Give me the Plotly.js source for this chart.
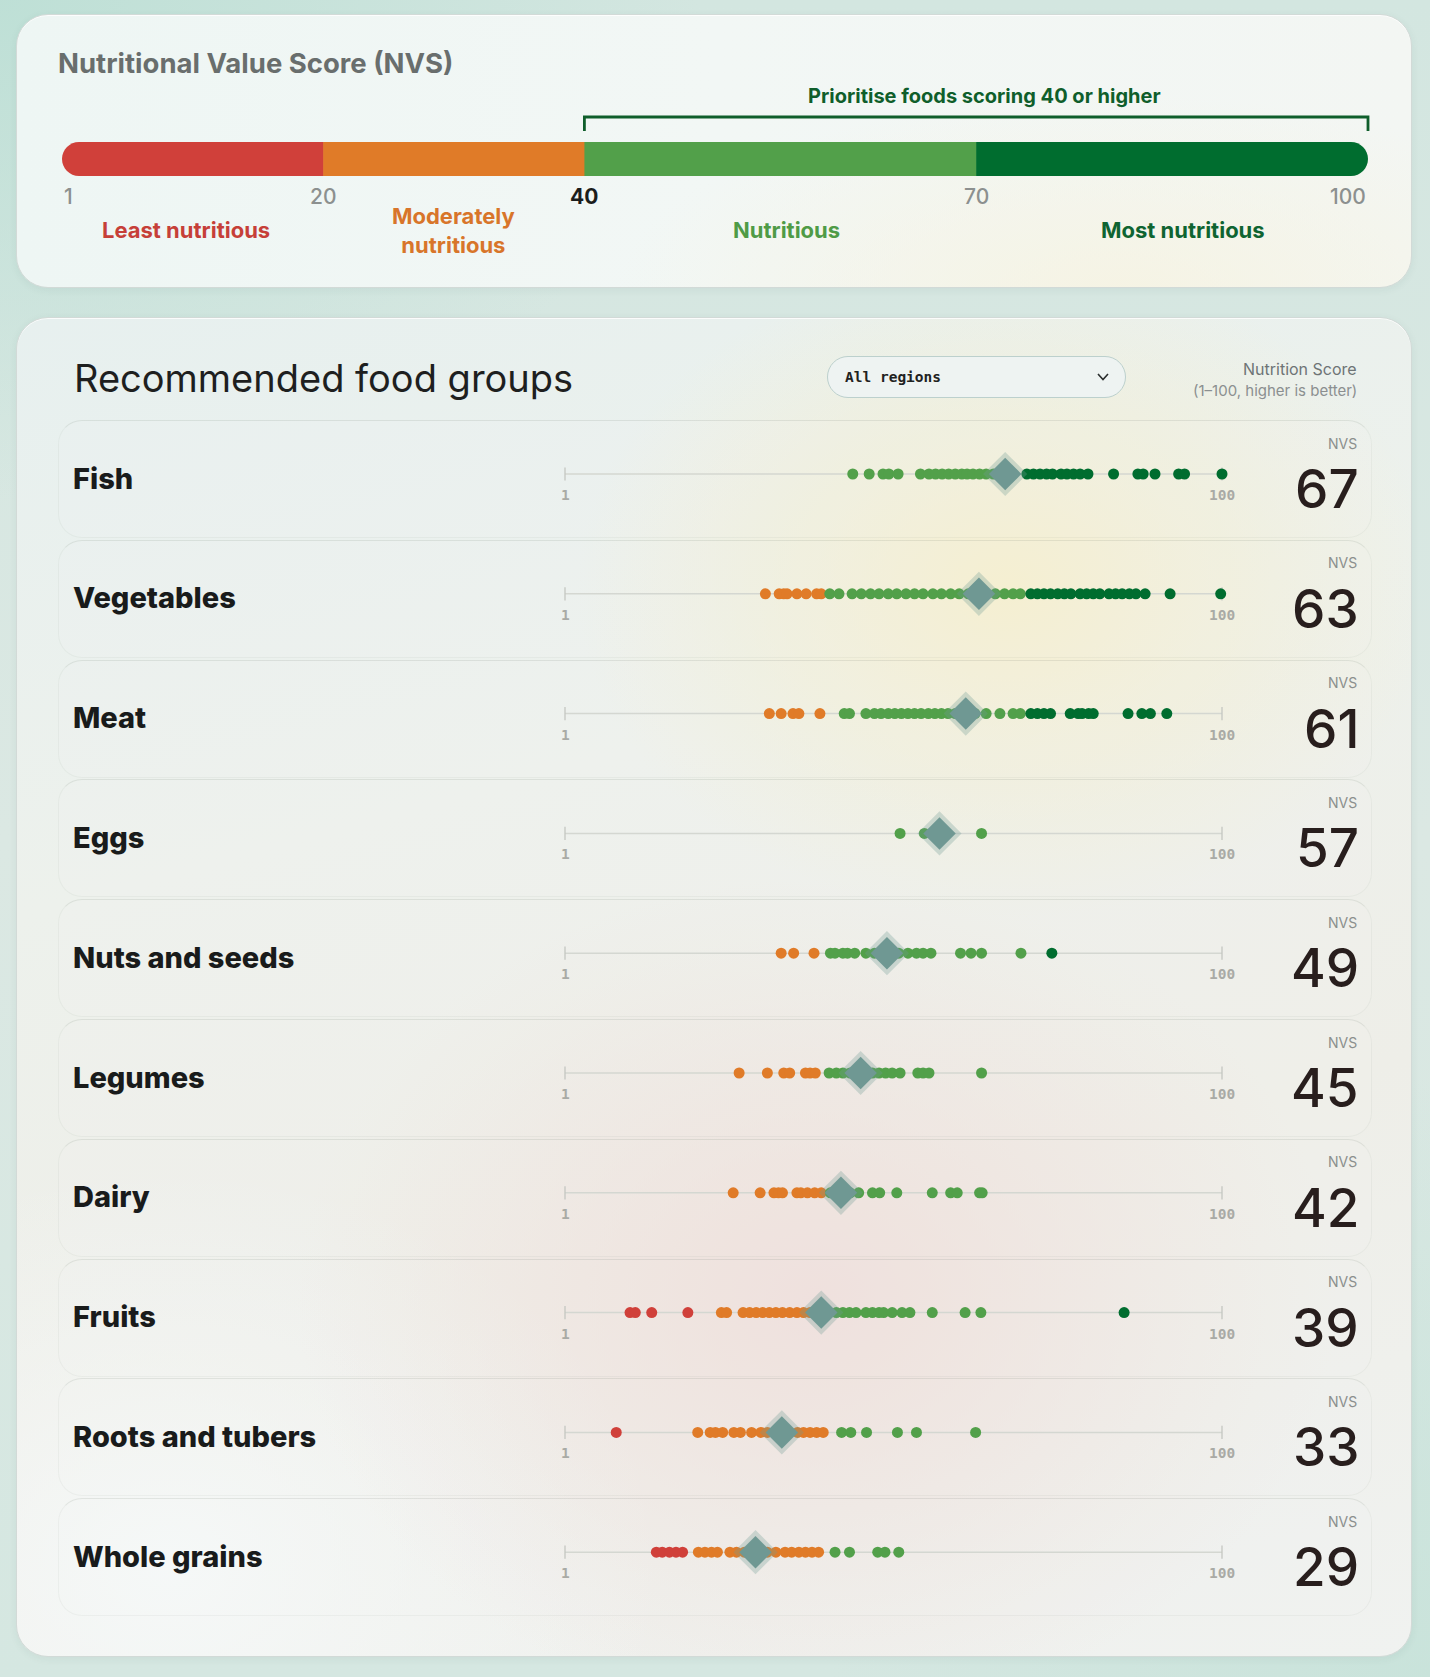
<!DOCTYPE html>
<html>
<head>
<meta charset="utf-8">
<script src="https://cdn.plot.ly/plotly-3.0.1.min.js"></script>
<style>
  html, body { margin:0; padding:0; width:1430px; height:1677px; overflow:hidden; }
  body {
    background:
      radial-gradient(ellipse 700px 500px at 0px 0px, rgba(188,223,213,0.9), rgba(188,223,213,0) 100%),
      radial-gradient(ellipse 600px 600px at 1430px 1677px, rgba(198,226,217,0.8), rgba(198,226,217,0) 100%),
      linear-gradient(180deg, #d3e6e0 0%, #dbe8e3 50%, #d5e7e1 100%);
    font-family: Inter, sans-serif;
  }
  .card { position:absolute; left:16px; width:1396px; border-radius:32px; box-sizing:border-box;
          border:1px solid #d2dad7; box-shadow: 0 2px 8px rgba(40,70,60,0.06), inset 0 1px 0 rgba(255,255,255,0.8); }
  #card1 { top:14px; height:274px;
    background:
      radial-gradient(ellipse 500px 200px at 1100px 280px, rgba(246,243,226,0.9), rgba(246,243,226,0) 100%),
      linear-gradient(90deg, #eef6f4 0%, #f2f7f5 50%, #f3f6f3 100%); }
  #card2 { top:317px; height:1340px;
    background:
      radial-gradient(ellipse 430px 330px at 990px 270px, rgba(246,238,204,0.9), rgba(246,238,204,0) 100%),
      radial-gradient(ellipse 520px 420px at 800px 980px, rgba(238,221,217,0.85), rgba(238,221,217,0) 100%),
      radial-gradient(ellipse 500px 400px at 150px 1250px, rgba(246,249,249,0.9), rgba(246,249,249,0) 100%),
      linear-gradient(165deg, #e7f0ef 0%, #edf1ec 35%, #eeeee8 65%, #f0f2f0 100%); }
  .row { position:absolute; left:58px; width:1314px; height:118px; box-sizing:border-box;
         border:1px solid rgba(70,80,70,0.05); border-top:1.5px solid rgba(70,80,70,0.11);
         border-radius:24px; background:rgba(255,255,255,0.06); }
  #dropdown { position:absolute; left:827px; top:356px; width:299px; height:42px; box-sizing:border-box;
              border-radius:21px; border:1.5px solid #bcd0cd; background:#eef3f2; }
  #plot { position:absolute; left:0; top:0; width:1430px; height:1677px; z-index:5; }
</style>
</head>
<body>
<div class="card" id="card1"></div>
<div class="card" id="card2"></div>
<div id="rows"></div>
<div id="dropdown"></div>
<div id="plot"></div>
<script>
// ---------------- DATA ----------------
const groups = ['Fish','Vegetables','Meat','Eggs','Nuts and seeds','Legumes','Dairy','Fruits','Roots and tubers','Whole grains'];
const nvsScores = [67,63,61,57,49,45,42,39,33,29];

const fishScores = [43.8,46.3,48.4,49.3,50.7,54.1,55.4,56.4,57.4,58.4,59.4,60.4,61.2,62.1,63.1,64.1,65.2,66.7,68.2,70.3,71.3,72.3,73.3,74.2,75.5,76.4,77.4,78.4,79.6,83.5,87.2,88,89.8,93.4,94.3,100];
const vegetableScores = [30.5,32.6,33.3,33.8,35.3,36.7,38.3,39,40.3,41.7,43.7,45.1,46.5,47.8,49.2,50.5,51.9,53.2,54.5,56,57.3,58.7,60,61.4,62.6,64.1,65.5,66.9,68.2,69.3,70.9,71.9,72.9,73.9,75,76,77,78.4,79.4,80.4,81.4,82.8,83.8,84.8,85.9,86.9,88.3,92.1,99.8];
const meatScores = [31.1,32.9,34.7,35.6,38.8,42.5,43.3,45.8,47.1,48.1,49.2,50.2,51.2,52.2,53.2,54.2,55.3,56.3,57.3,58.3,59.4,60.6,62.4,64.1,66.2,68.2,69.3,70.9,71.9,72.9,73.9,76.9,78.1,78.7,79.7,80.4,85.7,87.8,89.1,91.6];
const eggScores = [51,54.7,63.4];
const nutScores = [32.9,34.8,37.9,40.4,41.1,42.3,43,44.1,45.8,47.1,48.1,49.5,50.8,52.2,53.5,54.5,55.7,60.2,61.8,63.4,69.4,74.1];
const legumeScores = [26.5,30.8,33.3,34.2,36.6,37.3,38.1,40.2,41.3,42.3,43.4,44.9,46.8,47.8,48.8,49.8,51,53.7,54.5,55.4,63.4];
const dairyScores = [25.6,29.7,31.8,32.5,33.1,35.3,35.9,36.9,38,39,40.4,41.9,43.4,44.7,46.8,47.9,50.5,55.9,58.7,59.7,63.1,63.5];
const fruitScores = [9.9,10.7,13.2,18.7,23.8,24.6,27.1,28.1,29.1,30.1,31.1,32.1,33.1,34.2,35.3,36.3,37.3,38.4,40.2,41.3,42.3,43.3,44.3,45.8,46.8,47.8,48.5,49.8,51.3,52.5,55.9,60.9,63.3,85.1];
const rootScores = [7.8,20.2,22.1,22.9,24,25.7,26.7,28.4,29.8,30.8,32.3,33.8,35.4,36.3,37.3,38.3,39.3,42.1,43.5,45.9,50.6,53.5,62.5];
const grainScores = [13.9,14.8,15.9,16.9,17.9,20.3,21.3,22.3,23.2,25.1,26.1,27.3,28.3,29.8,30.8,32.1,33.5,34.5,35.6,36.6,37.6,38.6,41.1,43.3,47.6,48.7,50.8];

const bandEdges = [0,20,40,70,100];
const bandColors = ['#d0403a','#e07b28','#52a04a','#006d2f'];
const bandLabels = ['Least nutritious','Moderately<br>nutritious','Nutritious','Most nutritious'];
const bandLabelColors = ['#c63f38','#d8752a','#4f9b46','#0f6431'];
const scaleTickLabels = ['1','20','40','70','100'];
const priorityThreshold = 40;
const priorityText = 'Prioritise foods scoring 40 or higher';
const axisTickValues = [0,100];
const axisTickLabels = ['1','100'];

const scoresByGroup = [fishScores, vegetableScores, meatScores, eggScores, nutScores, legumeScores, dairyScores, fruitScores, rootScores, grainScores];

// ---------------- LAYOUT HELPERS ----------------
const W = 1430, H = 1677;
const rowTop = 474, rowStep = 119.8;
const px = v => v / W;
const py = v => 1 - v / H;
function bandColor(v){
  for (let k = bandEdges.length - 2; k >= 0; k--) if (v >= bandEdges[k]) return bandColors[k];
  return bandColors[0];
}

// row panels (decoration)
const rowsDiv = document.getElementById('rows');
groups.forEach((g,i)=>{
  const d = document.createElement('div');
  d.className = 'row';
  d.style.top = (rowTop - 54 + i*rowStep) + 'px';
  rowsDiv.appendChild(d);
});

// ---------------- TRACES ----------------
const traces = [];
scoresByGroup.forEach((arr,i)=>{
  traces.push({
    type:'scatter', mode:'markers', xaxis:'x', yaxis:'y', cliponaxis:false,
    x: arr, y: arr.map(()=>i), hoverinfo:'skip', showlegend:false,
    marker:{size:11, color: arr.map(bandColor), line:{width:0}}
  });
});
const rowIdx = groups.map((g,i)=>i);
traces.push({type:'scatter', mode:'markers', x:nvsScores, y:rowIdx, xaxis:'x', yaxis:'y', cliponaxis:false,
  hoverinfo:'skip', showlegend:false, marker:{symbol:'diamond', size:34, color:'rgba(112,155,148,0.30)', line:{width:0}}});
traces.push({type:'scatter', mode:'markers', x:nvsScores, y:rowIdx, xaxis:'x', yaxis:'y', cliponaxis:false,
  hoverinfo:'skip', showlegend:false, marker:{symbol:'diamond', size:25, color:'#6f9893', line:{width:0}}});

// ---------------- SHAPES ----------------
const shapes = [];
const gridCol = '#d4d7d1';
groups.forEach((g,i)=>{
  shapes.push({type:'line', xref:'x', yref:'y', x0:axisTickValues[0], x1:axisTickValues[1], y0:i, y1:i, line:{color:gridCol, width:1.5}, layer:'below'});
  axisTickValues.forEach(xv=>{
    shapes.push({type:'line', xref:'x', yref:'y', x0:xv, x1:xv, y0:i-0.055, y1:i+0.055, line:{color:'#c4c6c1', width:1.3}, layer:'below'});
  });
});

// top scale bar on x2 / y2 (y2 in pixel units)
const barTop = 142, barBot = 176, barMid = (barTop+barBot)/2, half = (barBot-barTop)/2;
const unitPx = (1368-62)/100;
const rx = half / unitPx, k = 0.5523;
for (let b = 0; b < bandColors.length; b++){
  const a = bandEdges[b], z = bandEdges[b+1];
  let path;
  if (b === 0){
    path = `M ${a+rx},${barTop} L ${z+0.05},${barTop} L ${z+0.05},${barBot} L ${a+rx},${barBot} `+
           `C ${a+rx-k*rx},${barBot} ${a},${barMid+k*half} ${a},${barMid} `+
           `C ${a},${barMid-k*half} ${a+rx-k*rx},${barTop} ${a+rx},${barTop} Z`;
  } else if (b === bandColors.length-1){
    path = `M ${a},${barTop} L ${z-rx},${barTop} `+
           `C ${z-rx+k*rx},${barTop} ${z},${barMid-k*half} ${z},${barMid} `+
           `C ${z},${barMid+k*half} ${z-rx+k*rx},${barBot} ${z-rx},${barBot} L ${a},${barBot} Z`;
  } else {
    path = `M ${a},${barTop} L ${z+0.05},${barTop} L ${z+0.05},${barBot} L ${a},${barBot} Z`;
  }
  shapes.push({type:'path', xref:'x2', yref:'y2', path:path, fillcolor:bandColors[b], line:{width:0}});
}
// bracket
shapes.push({type:'path', xref:'x2', yref:'y2',
  path:`M ${priorityThreshold},131 L ${priorityThreshold},117 L ${bandEdges[bandEdges.length-1]},117 L ${bandEdges[bandEdges.length-1]},131`,
  line:{color:'#0f5e2b', width:2.8}});
// dropdown chevron (paper)
shapes.push({type:'path', xref:'paper', yref:'paper',
  path:`M ${px(1098)},${py(374)} L ${px(1103)},${py(379.5)} L ${px(1108)},${py(374)}`,
  line:{color:'#2a2e2e', width:1.6}});

// ---------------- ANNOTATIONS ----------------
const ann = [];
const A = o => ann.push(Object.assign({showarrow:false}, o));
const bandLabelShift = [-7, 0, 6, 11];

A({xref:'paper', yref:'paper', x:px(56), y:py(63), xanchor:'left', yanchor:'middle',
   text:'Nutritional Value Score (NVS)', font:{family:'Inter', size:27.5, weight:700, color:'#696e6d'}});
A({xref:'x2', yref:'y2', x:(priorityThreshold+bandEdges[bandEdges.length-1])/2, xshift:8, y:96, xanchor:'center', yanchor:'middle',
   text:priorityText, font:{family:'Inter', size:20, weight:700, color:'#0f5e2b'}});
bandEdges.forEach((e,j)=>{
  const isThr = e === priorityThreshold;
  A({xref:'x2', yref:'y2', x:e, y:196, xanchor: j===0?'left':(j===bandEdges.length-1?'right':'center'), yanchor:'middle',
     text:scaleTickLabels[j], font:{family:'Inter', size:21, weight:isThr?700:500, color:isThr?'#1b1d1c':'#8c908f'}});
});
bandLabels.forEach((t,j)=>{
  A({xref:'x2', yref:'y2', x:(bandEdges[j]+bandEdges[j+1])/2, xshift: bandLabelShift[j], y:230, xanchor:'center', yanchor:'middle',
     text:t, font:{family:'Inter', size:22, weight:700, color:bandLabelColors[j]}});
});

A({xref:'paper', yref:'paper', x:px(72), y:py(378), xanchor:'left', yanchor:'middle',
   text:'Recommended food groups', font:{family:'Inter', size:38, weight:400, color:'#1e1f1f'}});
A({xref:'paper', yref:'paper', x:px(843), y:py(377), xanchor:'left', yanchor:'middle',
   text:'All regions', font:{family:'DejaVu Sans Mono', size:14.5, weight:700, color:'#1f2221'}});
A({xref:'paper', yref:'paper', x:px(1359), y:py(369), xanchor:'right', yanchor:'middle',
   text:'Nutrition Score', font:{family:'Inter', size:16, color:'#6e7476'}});
A({xref:'paper', yref:'paper', x:px(1359), y:py(391), xanchor:'right', yanchor:'middle',
   text:'(1–100, higher is better)', font:{family:'Inter', size:15, color:'#8b8f90'}});

groups.forEach((g,i)=>{
  A({xref:'paper', yref:'y', x:px(71), y:i, yshift:-4, xanchor:'left', yanchor:'middle',
     text:g, font:{family:'Inter', size:29, weight:800, color:'#191b1b'}});
  axisTickValues.forEach((xv,j)=>{
    A({xref:'x', yref:'y', x:xv, y:i, yshift:-21, xanchor:'center', yanchor:'middle',
       text:axisTickLabels[j], font:{family:'DejaVu Sans Mono', size:14.5, weight:700, color:'#a9aaa5'}});
  });
  A({xref:'paper', yref:'y', x:px(1359), y:i, yshift:31, xanchor:'right', yanchor:'middle',
     text:'NVS', font:{family:'Inter', size:14, color:'#8b8f8d'}});
  A({xref:'paper', yref:'y', x:px(1361), y:i, yshift:-15, xanchor:'right', yanchor:'middle',
     text:String(nvsScores[i]), font:{family:'Inter', size:53, weight:500, color:'#281e1d'}});
});

// ---------------- AXES ----------------
const u1 = (1222-565)/(axisTickValues[1]-axisTickValues[0]);
const pad = 5;
const xr = [axisTickValues[0]-pad, axisTickValues[1]+pad];
const x0px = 565 - pad*u1, x1px = 1222 + pad*u1;
const yTopVal = 0 - rowTop/rowStep, yBotVal = 9 + (H - (rowTop + 9*rowStep))/rowStep;
const x2r = [-2, 102];
const x2a = 62 - 2*unitPx, x2b = 1368 + 2*unitPx;

const layout = {
  width:W, height:H, margin:{l:0,r:0,t:0,b:0,pad:0},
  paper_bgcolor:'rgba(0,0,0,0)', plot_bgcolor:'rgba(0,0,0,0)',
  showlegend:false, hovermode:false,
  xaxis:{domain:[x0px/W, x1px/W], range:xr, visible:false, fixedrange:true},
  yaxis:{domain:[0,1], range:[yBotVal, yTopVal], visible:false, fixedrange:true},
  xaxis2:{domain:[x2a/W, x2b/W], range:x2r, visible:false, anchor:'y2'},
  yaxis2:{domain:[0,1], range:[H,0], visible:false, anchor:'x2'},
  shapes:shapes, annotations:ann
};
Plotly.newPlot('plot', traces, layout, {staticPlot:true, displayModeBar:false});
</script>
</body>
</html>
